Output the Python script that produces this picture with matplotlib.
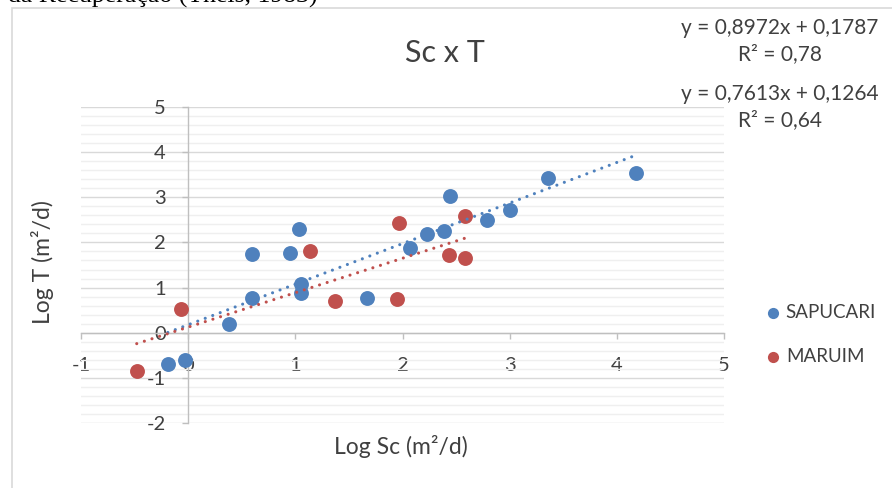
import matplotlib
matplotlib.use("Agg")
import matplotlib.pyplot as plt
from matplotlib.patches import Rectangle
import numpy as np

plt.rcParams['font.family'] = ['Lato', 'DejaVu Sans']
plt.rcParams['axes.unicode_minus'] = False

# ---- data ----
sapucari_x = [-0.19, -0.03, 0.38, 0.60, 1.05, 1.05, 1.67, 0.60, 0.95, 1.03,
              2.07, 2.23, 2.39, 2.44, 2.79, 3.00, 3.36, 4.18]
sapucari_y = [-0.68, -0.59, 0.20, 0.76, 0.88, 1.07, 0.76, 1.74, 1.77, 2.29,
              1.88, 2.19, 2.26, 3.03, 2.50, 2.71, 3.43, 3.54]
maruim_x = [-0.48, -0.07, 1.37, 1.95, 1.14, 1.97, 2.58, 2.43, 2.58]
maruim_y = [-0.84, 0.53, 0.70, 0.74, 1.80, 2.42, 2.58, 1.73, 1.65]

sapucari_fit = (0.8972, 0.1787)   # slope, intercept
maruim_fit = (0.7613, 0.1264)
sapucari_r2 = "0,78"
maruim_r2 = "0,64"

x_ticks = [-1, 0, 1, 2, 3, 4, 5]
y_ticks = [-2, -1, 0, 1, 2, 3, 4, 5]

title = "Sc x T"
x_label = "Log Sc (m²/d)"
y_label = "Log T (m²/d)"
top_caption = "da Recuperação (Theis, 1983)"

BLUE = "#4F81BD"
RED = "#C0504D"
TXT = "#404040"

W, H = 892, 488
fig = plt.figure(figsize=(W / 100, H / 100), dpi=100)

# chart frame (cut by image edges)
fig.add_artist(Rectangle((11.5 / W, -0.05), 1.2, 1 - 7.5 / H + 0.05,
                         transform=fig.transFigure, fill=False,
                         edgecolor="#D9D9D9", linewidth=1.2))
fig.text(8 / W, 1 - 3 / H, top_caption, family="Liberation Serif",
         fontsize=18.5, color="black", ha="left", va="baseline")

left, right = 81 / W, 724 / W
top, bottom = 1 - 106.7 / H, 1 - 423.3 / H
ax = fig.add_axes([left, bottom, right - left, top - bottom])
ax.set_xlim(-1, 5)
ax.set_ylim(-2, 5)

for s in ("top", "right"):
    ax.spines[s].set_visible(False)
ax.spines["left"].set_position(("data", 0))
ax.spines["bottom"].set_position(("data", 0))
for s in ("left", "bottom"):
    ax.spines[s].set_color("#BFBFBF")
    ax.spines[s].set_linewidth(1.0)

ax.set_xticks(x_ticks)
ax.set_xticklabels([str(t) for t in x_ticks])
ax.set_yticks(y_ticks)
ax.set_yticklabels([str(t) for t in y_ticks])
ax.set_yticks(np.arange(-2, 5.01, 0.2), minor=True)
ax.tick_params(axis="x", which="major", direction="out", length=4.5, width=1,
               color="#BFBFBF", labelsize=14.5, labelcolor=TXT, pad=13)
ax.tick_params(axis="y", which="major", direction="out", length=4.5, width=1,
               color="#BFBFBF", labelsize=14.5, labelcolor=TXT, pad=11.5)
ax.tick_params(axis="y", which="minor", length=0)
ax.grid(axis="y", which="major", color="#D9D9D9", linewidth=1.0)
ax.grid(axis="y", which="minor", color="#EFEFEF", linewidth=1.0)
ax.set_axisbelow(True)

ax.scatter(sapucari_x, sapucari_y, s=115, color=BLUE, label="SAPUCARI",
           zorder=3, linewidths=0)
ax.scatter(maruim_x, maruim_y, s=115, color=RED, label="MARUIM",
           zorder=3, linewidths=0)

for xs, (m, b), c in ((sapucari_x, sapucari_fit, BLUE),
                      (maruim_x, maruim_fit, RED)):
    xx = np.array([min(xs), max(xs)])
    ax.plot(xx, m * xx + b, color=c, linewidth=2.25,
            linestyle=(0, (0.01, 2.55)), dash_capstyle="round", zorder=4)

fig.text(445 / W, 1 - 53 / H, title, fontsize=22, color=TXT,
         ha="center", va="center")
fig.text(401 / W, 1 - 446 / H, x_label, fontsize=16.5, color=TXT,
         ha="center", va="center")
fig.text(43 / W, 1 - 262 / H, y_label, fontsize=16.5, color=TXT,
         ha="center", va="center", rotation=90)

eq_x = 780 / W
fig.text(eq_x, 1 - 28 / H, f"y = {sapucari_fit[0]:.4f}x + {sapucari_fit[1]:.4f}".replace(".", ","),
         fontsize=15, color=TXT, ha="center", va="center")
fig.text(eq_x, 1 - 54 / H, f"R² = {sapucari_r2}",
         fontsize=15, color=TXT, ha="center", va="center")
fig.text(eq_x, 1 - 94 / H, f"y = {maruim_fit[0]:.4f}x + {maruim_fit[1]:.4f}".replace(".", ","),
         fontsize=15, color=TXT, ha="center", va="center")
fig.text(eq_x, 1 - 120 / H, f"R² = {maruim_r2}",
         fontsize=15, color=TXT, ha="center", va="center")

leg = ax.legend(loc="center left", bbox_to_anchor=(752 / W, 1 - 334.5 / H),
                bbox_transform=fig.transFigure, frameon=False, fontsize=13.5,
                labelcolor=TXT, handletextpad=0.1, labelspacing=1.45,
                markerscale=0.75, borderpad=0, handlelength=1.2)

fig.savefig("out.png", dpi=100)
